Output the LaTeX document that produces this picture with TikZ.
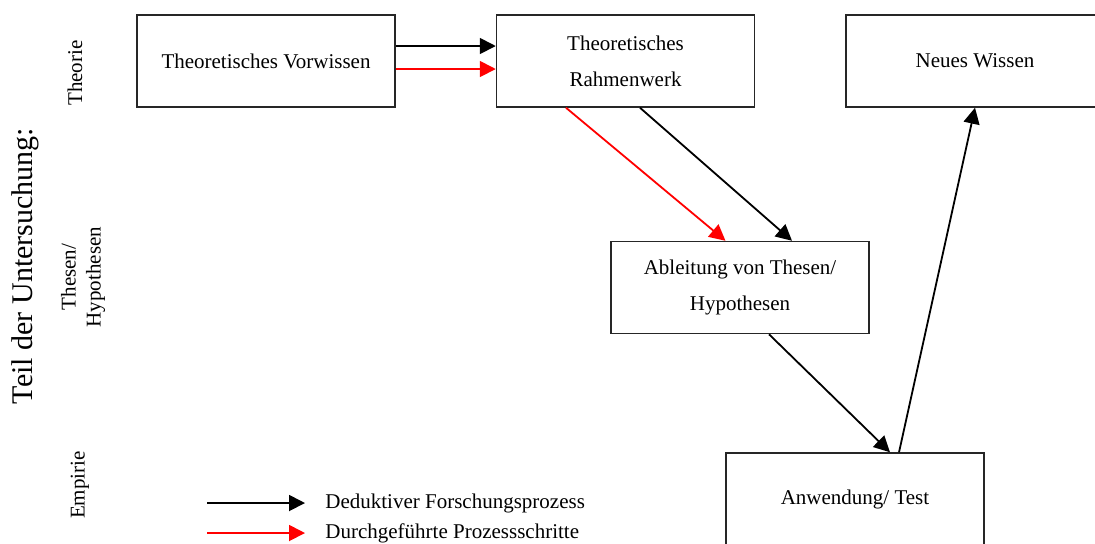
\documentclass[tikz,border=0pt]{standalone}
\usepackage{fontspec}
\setmainfont{Liberation Serif}
\usetikzlibrary{arrows.meta}
\begin{document}
\begin{tikzpicture}[x=0.5pt,y=-0.5pt,
  box/.style={draw=black!85, line width=0.75pt, rectangle, minimum width=129pt, minimum height=46pt, inner sep=0pt, align=center, font=\fontsize{10.5}{18}\selectfont},
  conn/.style={line width=0.9pt, -{Triangle[length=8pt,width=8pt]}},
  redconn/.style={conn, draw=red, -{Triangle[length=8pt,width=8pt,fill=red]}},
  lbl/.style={rotate=90, inner sep=0pt, align=center, font=\fontsize{10.5}{12.5}\selectfont}]
\useasboundingbox (0,0) rectangle (1095,543);
\begin{scope}
\clip (0,0) rectangle (1095,543);
\node[box] (b1) at (266,61) {Theoretisches Vorwissen};
\node[box] (b2) at (625.5,61) {Theoretisches\\Rahmenwerk};
\node[box] (b3) at (975,61) {Neues Wissen};
\node[box] (b4) at (740,287.5) {Ableitung von Thesen/\\Hypothesen};
\node[box] (b5) at (855,499) {Anwendung/ Test};

\node[lbl, font=\fontsize{15}{18}\selectfont] (teil) at (25,266) {Teil der Untersuchung:};
\node[lbl] (theo) at (75,73) {Theorie};
\node[lbl] (thes) at (83,277) {Thesen/\\Hypothesen};
\node[lbl] (emp) at (80,485) {Empirie};

\draw[conn] ([yshift=7.5pt]b1.east) -- ([yshift=7.5pt]b2.west);
\draw[redconn] ([yshift=-4pt]b1.east) -- ([yshift=-4pt]b2.west);
\draw[redconn] ([xshift=-29.75pt]b2.south) -- ([xshift=-7.25pt]b4.north);
\draw[conn] ([xshift=7.25pt]b2.south) -- ([xshift=26pt]b4.north);
\draw[conn] ([xshift=14.5pt]b4.south) -- ([xshift=17.5pt]b5.north);
\draw[conn] ([xshift=22pt]b5.north) -- (b3.south);

\coordinate (l1s) at (207,503);
\coordinate (l1e) at (305,503);
\coordinate (l2s) at (207,533);
\coordinate (l2e) at (305,533);
\node[anchor=west, inner sep=0pt, font=\fontsize{10.5}{12}\selectfont] (lt1) at (325,503) {Deduktiver Forschungsprozess};
\node[anchor=west, inner sep=0pt, font=\fontsize{10.5}{12}\selectfont] (lt2) at (325,533) {Durchgeführte Prozessschritte};
\draw[conn] (l1s) -- (l1e);
\draw[redconn] (l2s) -- (l2e);
\end{scope}
\end{tikzpicture}
\end{document}
